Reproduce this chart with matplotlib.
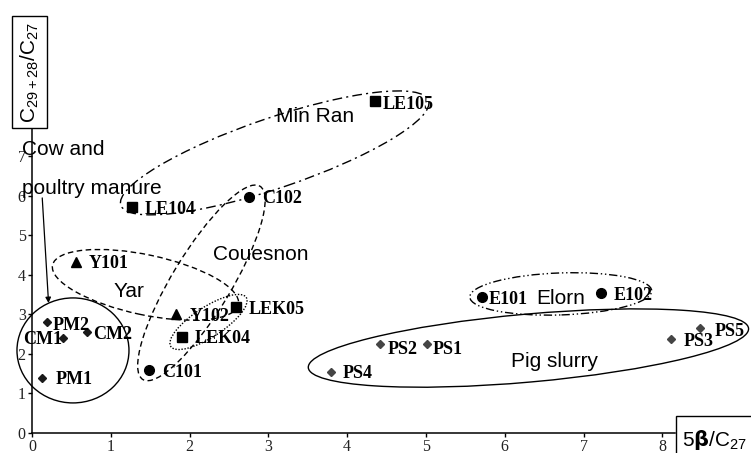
import matplotlib
matplotlib.use('Agg')
import matplotlib.pyplot as plt
import matplotlib.transforms as mtrans
from matplotlib.patches import Ellipse, Rectangle

# sample points: 5beta/C27 vs C29+28/C27
names = ['LE104', 'LE105', 'LEK04', 'LEK05',
         'C101', 'C102', 'E101', 'E102',
         'Y101', 'Y102',
         'PM1', 'PM2', 'CM1', 'CM2',
         'PS1', 'PS2', 'PS3', 'PS4', 'PS5']
x_vals = [1.27, 4.35, 1.90, 2.59,
          1.49, 2.75, 5.71, 7.22,
          0.56, 1.83,
          0.13, 0.19, 0.39, 0.70,
          5.01, 4.41, 8.11, 3.80, 8.48]
y_vals = [5.71, 8.40, 2.44, 3.18,
          1.59, 5.98, 3.45, 3.54,
          4.33, 3.01,
          1.40, 2.80, 2.41, 2.55,
          2.25, 2.25, 2.37, 1.55, 2.65]
kinds = ['sq', 'sq', 'sq', 'sq',
         'ci', 'ci', 'ci', 'ci',
         'tr', 'tr',
         'cow', 'cow', 'cow', 'cow',
         'pig', 'pig', 'pig', 'pig', 'pig']

# label offsets in pixels (dx, dy), default is right of the marker
lab_off = {'PM2': (6, -3), 'CM1': (-1, -2), 'CM2': (6, -2), 'LE105': (8, -3),
           'E101': (7, -3), 'PS2': (8, -5), 'PS1': (6, -5), 'PS4': (11, -2),
           'PS5': (14, -3)}
lab_ha = {'CM1': 'right'}

# groups: label, label pos, ellipse centre (data), size in px, angle, style
groups = ['Min Ran', 'Couesnon', 'Yar', 'Elorn', 'Pig slurry']
group_xy = [(3.10, 7.86), (2.30, 4.38), (1.03, 3.43), (6.40, 3.27), (6.08, 1.66)]

ell_centre = [(3.08, 7.09), (2.15, 3.80), (1.44, 3.75), (6.71, 3.52), (6.30, 2.15),
              (0.52, 2.09), (2.24, 2.81)]
ell_size = [(325, 70), (226, 59), (190, 60), (182, 42), (442, 68), (112, 105), (90, 30)]
ell_angle = [18.8, 58.8, -12, 2, 5.1, 0, 33]
ell_ls = [(0, (7, 3, 1.5, 3)), (0, (4, 2.5)), (0, (4, 2.5)), (0, (6, 2, 1, 2, 1, 2)),
          '-', '-', (0, (1, 1.2))]

plt.rcParams['font.family'] = ['Liberation Sans', 'DejaVu Sans']

fig = plt.figure(figsize=(7.51, 4.53), dpi=100)
ax = fig.add_axes([32 / 751, 20 / 453, 643 / 751, 305 / 453])
ax.set_xlim(0, 8.16)
ax.set_ylim(0, 7.72)
ax.set_xticks(range(9))
ax.set_yticks(range(8))
for s in ['top', 'right']:
    ax.spines[s].set_visible(False)
for s in ['left', 'bottom']:
    ax.spines[s].set_linewidth(1.1)
ax.tick_params(direction='out', length=3, width=1, pad=1.5)
for t in ax.get_xticklabels() + ax.get_yticklabels():
    t.set_fontfamily('Liberation Serif')
    t.set_fontsize(11.5)
    t.set_color('#222222')

style = {'sq': dict(marker='s', ms=7, color='black'),
         'ci': dict(marker='o', ms=7, color='black'),
         'tr': dict(marker='^', ms=7.5, color='black'),
         'cow': dict(marker='D', ms=4, color='#1a1a1a'),
         'pig': dict(marker='D', ms=4, color='#454545')}
for k in style:
    xs = [x for x, kk in zip(x_vals, kinds) if kk == k]
    ys = [y for y, kk in zip(y_vals, kinds) if kk == k]
    ax.plot(xs, ys, ls='none', clip_on=False, zorder=5, **style[k])

for n, x, y in zip(names, x_vals, y_vals):
    dx, dy = lab_off.get(n, (13, -2))
    ax.annotate(n, (x, y), xytext=(dx * 0.72, dy * 0.72), textcoords='offset points',
                ha=lab_ha.get(n, 'left'), va='center', fontfamily='Liberation Serif',
                fontweight='bold', fontsize=13, color='black', zorder=6,
                annotation_clip=False)

# ellipses drawn in display units so the rotation is not squashed
for c, sz, a, ls in zip(ell_centre, ell_size, ell_angle, ell_ls):
    tr = fig.dpi_scale_trans + mtrans.ScaledTranslation(c[0], c[1], ax.transData)
    e = Ellipse((0, 0), sz[0] / 100, sz[1] / 100, angle=a, transform=tr,
                fill=False, ec='black', lw=1, ls=ls, clip_on=False, zorder=4)
    ax.add_patch(e)

for g, (gx, gy) in zip(groups, group_xy):
    ax.text(gx, gy, g, fontsize=15, va='baseline', ha='left', zorder=7)

ax.text(-0.13, 7.04, 'Cow and', fontsize=15, va='baseline', zorder=7)
ax.text(-0.13, 6.04, 'poultry manure', fontsize=15, va='baseline', zorder=7)
ax.annotate('', xy=(0.21, 3.29), xytext=(0.13, 5.95), annotation_clip=False,
            arrowprops=dict(arrowstyle='-|>', lw=0.9, color='black', mutation_scale=8,
                            shrinkA=0, shrinkB=0))

# axis title boxes
fig.add_artist(Rectangle((12 / 751, 1 - 128 / 453), 35 / 751, 112 / 453,
                         transform=fig.transFigure, fill=True, fc='white', ec='black', lw=1))
fig.text(30 / 751, 1 - 72 / 453, r'C$\mathregular{_{29+28}}$/C$\mathregular{_{27}}$',
         rotation=90, ha='center', va='center', fontsize=15)
fig.add_artist(Rectangle((676 / 751, -5 / 453), 80 / 751, 42 / 453,
                         transform=fig.transFigure, fill=True, fc='white', ec='black', lw=1))
fig.text(682 / 751, (453 - 446) / 453, r'5$\mathbf{\beta}$/C$\mathregular{_{27}}$',
         ha='left', va='baseline', fontsize=15)

fig.savefig('out.png', dpi=100)
